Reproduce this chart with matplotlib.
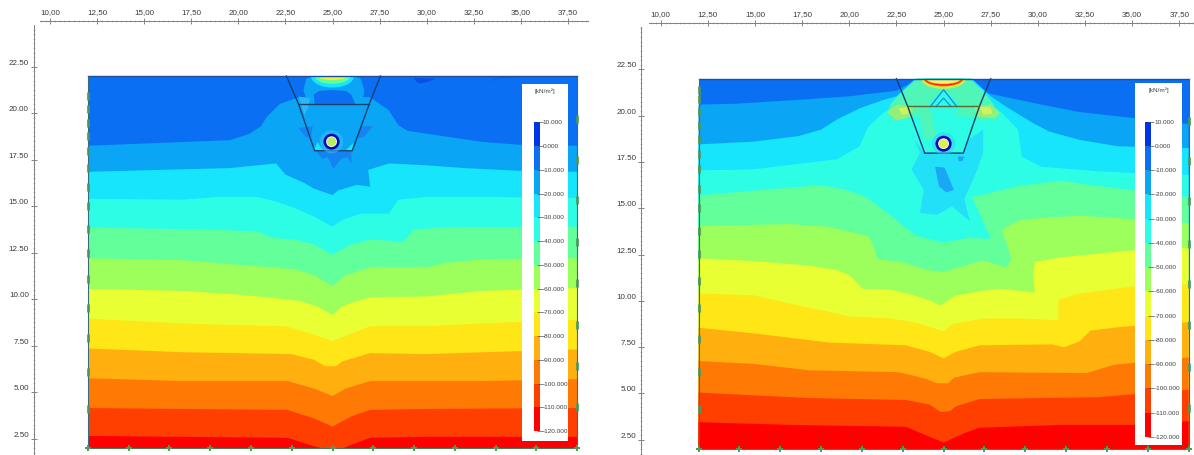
import matplotlib
matplotlib.use("Agg")
import matplotlib.pyplot as plt
from matplotlib.patches import Ellipse, Circle, Rectangle
from matplotlib.ticker import FixedLocator, FuncFormatter

plt.rcParams['font.family'] = ['Liberation Sans', 'DejaVu Sans']

W, H = 1194, 455

LEVELS = [10, 0, -10, -20, -30, -40, -50, -60, -70, -80, -90, -100, -110, -120]
BAND_COLORS = ['#0033E6', '#0A6FF2', '#0AA5F5', '#16E5FB', '#2EFDE6', '#62FF9A', '#9CFF5C',
               '#E8FF33', '#FFE617', '#FFB00F', '#FF7A05', '#FF3F00', '#FF0000']
UNIT = '[kN/m²]'
X_TICKS = [10, 12.5, 15, 17.5, 20, 22.5, 25, 27.5, 30, 32.5, 35, 37.5]
Y_TICKS = [2.5, 5, 7.5, 10, 12.5, 15, 17.5, 20, 22.5]

# ---- left panel: contour boundaries, top to bottom
L_X1 = [12, 19.55, 20.6, 21.2, 21.5, 22.2, 23.2, 25, 27, 28, 28.5, 29, 31, 33, 35, 38]
L_Y1 = [18.25, 18.55, 18.9, 19.3, 19.8, 20.5, 20.85, 21, 20.85, 20.15, 19.35, 19.05, 18.75, 18.45, 18.3, 18.25]
L_X2 = [12, 19.55, 21, 22, 22.5, 23.5, 24, 25, 25.3, 26.3, 27, 26.9, 28, 30, 32, 35, 38]
L_Y2 = [16.85, 17.05, 17.2, 17.3, 16.7, 16.25, 15.95, 15.6, 15.85, 16.15, 16.05, 16.95, 17.3, 17.2, 17.05, 16.9, 16.85]
L_X3 = [12, 17, 19, 21, 22, 23, 24, 25, 25.5, 26.5, 28, 28.5, 30, 33, 38]
L_Y3 = [15.4, 15.35, 15.5, 15.5, 15.25, 14.9, 14.45, 13.9, 14.25, 14.6, 14.6, 15.35, 15.5, 15.5, 15.45]
L_X4 = [12, 18, 21, 21.8, 23, 24, 25, 26, 27, 28.8, 29.3, 31, 38]
L_Y4 = [13.85, 13.75, 13.65, 13.3, 13.2, 12.95, 12.4, 12.95, 13.2, 13.1, 13.75, 13.85, 13.9]
L_X5 = [12, 17, 20, 22, 23, 24, 25, 25.6, 27, 30, 31, 33, 38]
L_Y5 = [12.2, 12.1, 11.85, 11.7, 11.6, 11.3, 10.7, 11.25, 11.7, 11.7, 11.95, 12.15, 12.2]
L_X6 = [12, 17, 20, 22, 23.3, 24.2, 25, 25.5, 26, 27, 30, 33, 38]
L_Y6 = [10.55, 10.45, 10.25, 10.05, 9.9, 9.6, 9.15, 9.6, 9.8, 10.1, 10.15, 10.45, 10.6]
L_X7 = [12, 17, 20, 22.5, 24, 25, 26, 27, 30, 33, 38]
L_Y7 = [8.95, 8.7, 8.6, 8.55, 8.1, 7.75, 8.15, 8.55, 8.55, 8.7, 8.9]
L_X8 = [12, 17, 20, 22.8, 24, 24.6, 25.2, 25.5, 27, 30, 33, 38]
L_Y8 = [7.35, 7.15, 7.1, 7.05, 6.75, 6.4, 6.4, 6.65, 7.1, 7.05, 7.15, 7.3]
L_X9 = [12, 17, 20, 22.6, 24, 25, 25.7, 27, 30, 33, 38]
L_Y9 = [5.75, 5.6, 5.6, 5.6, 5.2, 4.8, 5.2, 5.6, 5.6, 5.6, 5.7]
L_X10 = [12, 17, 22.6, 24, 25, 26, 27, 30, 38]
L_Y10 = [4.15, 4.1, 4.05, 3.6, 3.15, 3.7, 4.05, 4.1, 4.15]
L_X11 = [12, 17, 22.6, 24, 24.4, 25.6, 26.2, 27, 30, 38]
L_Y11 = [2.65, 2.6, 2.55, 2.1, 2, 2, 2.25, 2.55, 2.6, 2.6]

# ---- right panel: contour boundaries, top to bottom
R_X1 = [12, 14, 17.9, 20, 22.5, 23.6, 24, 26.1, 27.4, 30.2, 32.2, 35.3, 38]
R_Y1 = [20.6, 20.65, 20.9, 21.05, 21.35, 21.95, 22, 22, 21.2, 20.6, 20.2, 19.85, 19.55]
R_X2 = [12, 14.9, 17.3, 18.5, 19.35, 20.55, 21.8, 22.5, 23.5, 26.5, 27.5, 28.3, 29.75, 30.6, 32.2, 34.25, 38]
R_Y2 = [18.45, 18.6, 18.9, 19.25, 19.8, 20.4, 20.85, 21.05, 22, 22, 21.05, 20.5, 19.6, 19.15, 18.7, 18.35, 18.25]
R_X3 = [12, 14.9, 16.9, 19.35, 20.55, 21, 21.8, 22.5, 23, 24, 26, 27.1, 27.5, 28.1, 28.95, 29.15, 30.15, 33.2, 35.25, 38]
R_Y3 = [17.05, 17.1, 17.35, 17.65, 18.35, 19.4, 20.15, 20.65, 21.4, 22, 22, 21.4, 20.65, 20.15, 19.25, 17.8, 17.25, 17, 16.9, 16.8]
R_X4 = [12, 14.9, 18.5, 19.85, 20.9, 22.1, 22.8, 23.6, 25, 26.3, 27.5, 26.9, 26.5, 29, 31.2, 33.2, 35.3, 38]
R_Y4 = [15.7, 15.95, 16.25, 16, 15.6, 14.7, 14.1, 13.5, 13.15, 13.4, 13.35, 14.75, 15.6, 16.2, 16.5, 16.2, 15.95, 15.6]
R_X5 = [12, 16.9, 18.9, 21, 21.3, 21.5, 22.8, 24, 25, 26.1, 27.1, 28.3, 28.6, 28.3, 28.1, 28.3, 29.15, 32.2, 35.25, 38]
R_Y5 = [14.05, 14.15, 14, 13.5, 12.9, 12.25, 12.1, 11.7, 11.55, 11.9, 12.2, 11.8, 12.25, 13.25, 13.8, 13.97, 14.4, 14.6, 14.4, 14.2]
R_X6 = [12, 14.9, 17.9, 19.35, 20, 20.7, 22.2, 23.45, 24.45, 24.85, 25.65, 27.1, 28.1, 29.85, 29.75, 29.85, 31.2, 33.2, 35.25, 38]
R_Y6 = [12.3, 12.15, 11.9, 11.65, 11.4, 10.65, 10.6, 10.3, 9.95, 9.75, 10.3, 10.55, 10.65, 10.45, 11.45, 12.1, 12.35, 12.55, 12.75, 12.85]
R_X7 = [12, 14.9, 17.3, 18.95, 20, 22.2, 23.65, 25, 25.45, 27.1, 29.15, 31.1, 31.1, 32.2, 35.25, 38]
R_Y7 = [10.4, 10.3, 9.75, 9.4, 9.15, 9.05, 8.8, 8.35, 8.75, 9.05, 9.05, 8.95, 10.05, 10.4, 10.8, 10.9]
R_X8 = [12, 14.9, 16.9, 18.95, 23, 24.25, 25, 25.65, 26.9, 30.75, 31.4, 32.2, 32.8, 34.45, 38]
R_Y8 = [8.55, 8.25, 8, 7.75, 7.6, 7.25, 6.9, 7.25, 7.6, 7.65, 7.5, 7.8, 8.4, 8.6, 8.85]
R_X9 = [12, 14.9, 17.9, 22.6, 24.05, 24.65, 25.25, 25.55, 26.9, 32.6, 34.05, 38]
R_Y9 = [6.75, 6.6, 6.25, 6.15, 5.8, 5.55, 5.55, 5.85, 6.15, 6.1, 6.55, 6.95]
R_X10 = [12, 14.9, 17.9, 23, 24.25, 24.85, 25.35, 25.65, 26.9, 33.2, 38]
R_Y10 = [5.05, 4.9, 4.75, 4.65, 4.4, 4, 4.05, 4.3, 4.7, 4.8, 5.2]
R_X11 = [12, 16.9, 23, 24.05, 25, 26.1, 26.9, 31.2, 35.25, 38]
R_Y11 = [3.45, 3.3, 3.2, 2.75, 2.35, 2.85, 3.15, 3.3, 3.3, 3.5]

L_BOUNDS = [(L_X1, L_Y1), (L_X2, L_Y2), (L_X3, L_Y3), (L_X4, L_Y4), (L_X5, L_Y5), (L_X6, L_Y6),
            (L_X7, L_Y7), (L_X8, L_Y8), (L_X9, L_Y9), (L_X10, L_Y10), (L_X11, L_Y11)]
R_BOUNDS = [(R_X1, R_Y1), (R_X2, R_Y2), (R_X3, R_Y3), (R_X4, R_Y4), (R_X5, R_Y5), (R_X6, R_Y6),
            (R_X7, R_Y7), (R_X8, R_Y8), (R_X9, R_Y9), (R_X10, R_Y10), (R_X11, R_Y11)]

# ---- local pockets: (colour, x list, y list)
L_PATCHES = [
    ('#0AA5F5', [23.45, 23.6, 23.9, 26.2, 26.5, 26.7, 26.6, 26.2, 23.8], [21.2, 21.85, 22, 22, 21.85, 21.2, 20.8, 20.4, 20.4]),
    ('#0A6FF2', [24.05, 24, 24.3, 25, 25.7, 26, 26.2], [20.5, 21, 21.2, 21.25, 21.2, 21, 20.5]),
    ('#2BB7F8', [23.2, 23.8, 23.7, 23.5], [20.9, 20.8, 20.3, 19.9]),
    ('#1583F2', [23.2, 23.95, 23.85, 23.55], [19.2, 19.3, 18.65, 18.75]),
    ('#1583F2', [26.3, 26.6, 27.15, 26.7, 26.4], [18.85, 19.3, 19.3, 18.75, 18.65]),
    ('#1583F2', [24.15, 26, 26, 25.8, 25.45, 25.05, 24.75, 24.45], [17.95, 17.95, 17.3, 17.65, 17.55, 17, 17.65, 17.55]),
    ('#16E5FB', [24, 24.5, 24.2], [18, 18, 18.45]),
    ('#16E5FB', [25.7, 26.05, 26.1], [18, 18, 18.4]),
    ('#0A50E5', [29.3, 30.5, 30.1, 29.7, 29.5], [21.9, 21.85, 21.7, 21.6, 21.65]),
    ('#0A50E5', [33.2, 34, 35, 34], [21.7, 21.9, 21.95, 21.95]),
]
R_PATCHES = [
    ('#22E0F8', [23.45, 23.75, 23.3, 23.95, 23.75, 24.65, 25.45, 26.4, 26.1, 26.8, 27.1, 27.1, 26.3, 26.05, 24],
                [18.7, 18, 17.1, 16, 14.75, 14.65, 15.1, 14.3, 15.5, 17.1, 18, 19.25, 18.7, 18, 18]),
    ('#1AA8F5', [24.55, 25.05, 25.55, 25.15, 24.75], [17.25, 17.2, 16, 15.85, 16.2]),
    ('#1AA8F5', [25.75, 26.1, 26, 25.8], [17.8, 17.8, 17.55, 17.55]),
    ('#50F5B8', [23.6, 22.8, 22.2, 22, 22.4, 23.7, 24, 24.6, 24.4, 25.5, 26, 27.2, 27.9, 27.6, 27.1, 26.4],
                [22, 21.3, 20.65, 20.1, 19.7, 20, 18.7, 18.85, 20, 20, 20, 19.75, 20.1, 20.7, 21.3, 22]),
    ('#90F078', [22, 22.5, 23.4, 23.3, 22.5], [20.2, 20.6, 20.5, 19.95, 19.75]),
    ('#90F078', [26.6, 27.5, 28, 27.7, 26.8], [20.5, 20.6, 20.15, 19.85, 19.95]),
    ('#D0F060', [22.6, 23.2, 23.1, 22.8], [20.4, 20.5, 20.1, 20.05]),
    ('#D0F060', [26.9, 27.5, 27.6, 27.1], [20.5, 20.45, 20.1, 20.05]),
    ('#2EFDE6', [25, 24.1, 24.5, 25.5, 25.9], [21.45, 20.5, 20, 20, 20.5]),
]
R_WEDGE_X1 = [24.3, 25, 25.7]
R_WEDGE_Y1 = [20.5, 21.4, 20.5]
R_WEDGE_X2 = [24.6, 25, 25.4]
R_WEDGE_Y2 = [20.5, 20.95, 20.5]

# surface lens: half-width, depth, colour
L_LENS = [(1.15, 0.62, '#16E5FB'), (0.95, 0.42, '#62FF9A'), (0.75, 0.22, '#F2EE30')]
R_LENS = [(1.2, 0.55, '#C8F048'), (1.05, 0.42, '#FF7A05'), (1.0, 0.37, '#F02010'),
          (0.95, 0.3, '#FFB00F'), (0.9, 0.26, '#F5F070')]

# trench outlines
L_TRENCH_X = [22.55, 23.2, 24.05, 26.05, 26.95, 27.55]
L_TRENCH_Y = [22, 20.48, 17.98, 17.98, 20.48, 22]
R_TRENCH_X = [22.5, 23.1, 24, 26.05, 26.9, 27.5]
R_TRENCH_Y = [22, 20.5, 17.98, 17.98, 20.5, 22]
L_MID_X = [23.2, 26.95]
L_MID_Y = [20.48, 20.48]
R_MID_X = [23.1, 26.9]
R_MID_Y = [20.5, 20.5]

# pipe: centre x, centre y, core colour
L_PIPE = (24.95, 18.47, '#B8F058')
R_PIPE = (25.0, 18.49, '#DDF04A')

# boundary node markers
BOTTOM_NODES = [12, 14.17, 16.33, 18.5, 20.67, 22.83, 25, 27.17, 29.33, 31.5, 33.67, 35.83, 38]
L_EDGE_NODES = [20.9, 20.2, 19.5, 18.8, 17.95, 17.05, 16.05, 15, 13.8, 12.5, 11.1, 9.55, 7.9, 6.1, 4.1]
L_RIGHT_NODES = [19.7, 17.5, 15.35, 13.1, 10.85, 8.6, 6.4, 4.2]
R_EDGE_NODES = [21.4, 20.9, 20.2, 19.5, 18.75, 17.95, 17.1, 16.05, 15, 13.8, 12.55, 11.1, 9.6, 7.95, 6.15, 4.15]
R_RIGHT_NODES = [19.7, 17.55, 15.4, 13.05, 10.9, 8.7, 6.45, 4.2]


def fig_rect(x0, y0, x1, y1):
    return [x0 / W, 1 - y1 / H, (x1 - x0) / W, (y1 - y0) / H]


def panel(fig, px_left, px_right, px_top, px_bottom, ax_left, ax_right, ax_top, top_line_start, left_line_start,
          bounds, patches, lens, trench, mid, pipe, edge, right_edge, legend_box, bar_box, wedge=False):
    sx = (px_right - px_left) / 26.0
    sy = (px_bottom - px_top) / 20.0
    ax = fig.add_axes(fig_rect(ax_left, ax_top, ax_right, H))
    xlim = (12 + (ax_left - px_left) / sx, 12 + (ax_right - px_left) / sx)
    ylim = (22 - (H - px_top) / sy, 22 + (px_top - ax_top) / sy)
    ax.set_xlim(xlim)
    ax.set_ylim(ylim)
    ax.patch.set_alpha(0)

    base = Rectangle((12, 2), 26, 20, facecolor=BAND_COLORS[1], edgecolor='none', zorder=1)
    ax.add_patch(base)
    for i, (bx, by) in enumerate(bounds):
        ax.fill(list(bx) + [bx[-1], bx[0]], list(by) + [2, 2], facecolor=BAND_COLORS[i + 2],
                edgecolor='none', zorder=2 + i * 0.01)
    for col, px, py in patches:
        ax.fill(px, py, facecolor=col, edgecolor='none', zorder=3)
    clip = Rectangle((12, 2), 26, 20, transform=ax.transData)
    for hw, depth, col in lens:
        e = Ellipse((25, 22), 2 * hw, 2 * depth, facecolor=col, edgecolor='none', zorder=3.5)
        ax.add_patch(e)
        e.set_clip_path(clip)
    if wedge:
        ax.plot(R_WEDGE_X1, R_WEDGE_Y1, color='#1A8CF0', lw=1.0, zorder=3.6)
        ax.plot(R_WEDGE_X2, R_WEDGE_Y2, color='#1A8CF0', lw=0.9, zorder=3.6)

    ax.plot(trench[0], trench[1], color='#1C3F6E', lw=1.0, zorder=4)
    ax.plot(mid[0], mid[1], color='#5A6A30' if wedge else '#1C3F6E', lw=1.0, zorder=4)

    cx, cy, core = pipe
    ax.add_patch(Circle((cx, cy), 0.62, facecolor='#38C8F8', edgecolor='none', alpha=0.5, zorder=4.5))
    ax.add_patch(Circle((cx, cy), 0.43, facecolor='#0808B0', edgecolor='none', zorder=5))
    ax.add_patch(Circle((cx, cy), 0.29, facecolor='#E8F8F0', edgecolor='none', zorder=5.1))
    ax.add_patch(Circle((cx, cy), 0.24, facecolor=core, edgecolor='none', zorder=5.2))

    ax.plot([12, 38], [22, 22], color='#1B4FA0', lw=1.0, zorder=6)
    ax.plot([12, 12], [2, 22], color='#3A6A80', lw=0.8, zorder=6)
    ax.plot([38, 38], [2, 22], color='#3A6A80', lw=0.8, zorder=6)
    ax.plot([12, 38], [2, 2], color='#4A7A60', lw=0.8, zorder=6)
    ax.plot([12] * len(edge), edge, ls='none', marker='|', ms=6, mew=2.2, color='#4E9A5E', alpha=0.85, zorder=7)
    ax.plot([38] * len(right_edge), right_edge, ls='none', marker='|', ms=6, mew=2.2, color='#4E9A5E', alpha=0.85, zorder=7)
    ax.plot(BOTTOM_NODES, [2] * len(BOTTOM_NODES), ls='none', marker='+', ms=4.5, mew=1.4, color='#4E9A5E', zorder=7)

    for s in ('right', 'bottom'):
        ax.spines[s].set_visible(False)
    ax.spines['top'].set_color('#808080')
    ax.spines['left'].set_color('#808080')
    ax.spines['top'].set_linewidth(0.7)
    ax.spines['left'].set_linewidth(0.7)
    ax.spines['top'].set_bounds(12 + (top_line_start - px_left) / sx, xlim[1])
    ax.spines['left'].set_bounds(ylim[0], 22 + (px_top - left_line_start) / sy)

    ax.xaxis.tick_top()
    ax.xaxis.set_major_locator(FixedLocator(X_TICKS))
    ax.yaxis.set_major_locator(FixedLocator(Y_TICKS))
    minor_x = [8.75 + 0.25 * k for k in range(130)]
    minor_y = [0.25 * k for k in range(110)]
    ax.xaxis.set_minor_locator(FixedLocator([v for v in minor_x if v >= 12 + (top_line_start - px_left) / sx]))
    ax.yaxis.set_minor_locator(FixedLocator([v for v in minor_y if v <= 22 + (px_top - left_line_start) / sy]))
    ax.xaxis.set_major_formatter(FuncFormatter(lambda v, _: f'{v:.2f}'.replace('.', ',')))
    ax.yaxis.set_major_formatter(FuncFormatter(lambda v, _: f'{v:.2f}'))
    ax.tick_params(which='major', axis='both', direction='inout', length=4, width=0.6, color='#707070',
                   labelsize=5.8, labelcolor='#3A3A3A', pad=1.5)
    ax.tick_params(which='minor', axis='both', direction='inout', length=2, width=0.4, color='#909090')
    for lab in ax.get_yticklabels():
        lab.set_va('bottom')

    box = fig.add_axes(fig_rect(*legend_box), zorder=10)
    box.set_xticks([])
    box.set_yticks([])
    box.set_facecolor('white')
    for s in box.spines.values():
        s.set_visible(False)
    box.text(0.5, 1 - 7.5 / (legend_box[3] - legend_box[1]), UNIT, ha='center', va='center', fontsize=4.6,
             color='#404040', transform=box.transAxes)

    bar = fig.add_axes(fig_rect(*bar_box), zorder=11)
    for top, col in zip(LEVELS[:-1], BAND_COLORS):
        bar.bar(0, -10, bottom=top, width=1, color=col, edgecolor='none')
    bar.set_xlim(-0.5, 0.5)
    bar.set_ylim(LEVELS[-1], LEVELS[0])
    bar.set_xticks([])
    bar.yaxis.tick_right()
    bar.set_yticks(LEVELS)
    bar.set_yticklabels([f'{v:.3f}' for v in LEVELS])
    bar.tick_params(axis='y', direction='inout', length=4, width=0.5, color='#505050', labelsize=4.6,
                    labelcolor='#404040', pad=0.5)
    for s in bar.spines.values():
        s.set_visible(False)


fig = plt.figure(figsize=(W / 100, H / 100), dpi=100)

panel(fig, 88, 577, 76, 448, 33.7, 588, 20.5, 40, 25, L_BOUNDS, L_PATCHES, L_LENS,
      (L_TRENCH_X, L_TRENCH_Y), (L_MID_X, L_MID_Y), L_PIPE, L_EDGE_NODES, L_RIGHT_NODES,
      (521.5, 84, 568, 441), (533.7, 122.3, 539.5, 431))
panel(fig, 698.5, 1188.6, 78.7, 449, 641.4, 1194, 23, 649, 27, R_BOUNDS, R_PATCHES, R_LENS,
      (R_TRENCH_X, R_TRENCH_Y), (R_MID_X, R_MID_Y), R_PIPE, R_EDGE_NODES, R_RIGHT_NODES,
      (1135, 82.7, 1181.7, 444.7), (1144.5, 121.7, 1151, 437), wedge=True)

fig.savefig('out.png', dpi=100)
